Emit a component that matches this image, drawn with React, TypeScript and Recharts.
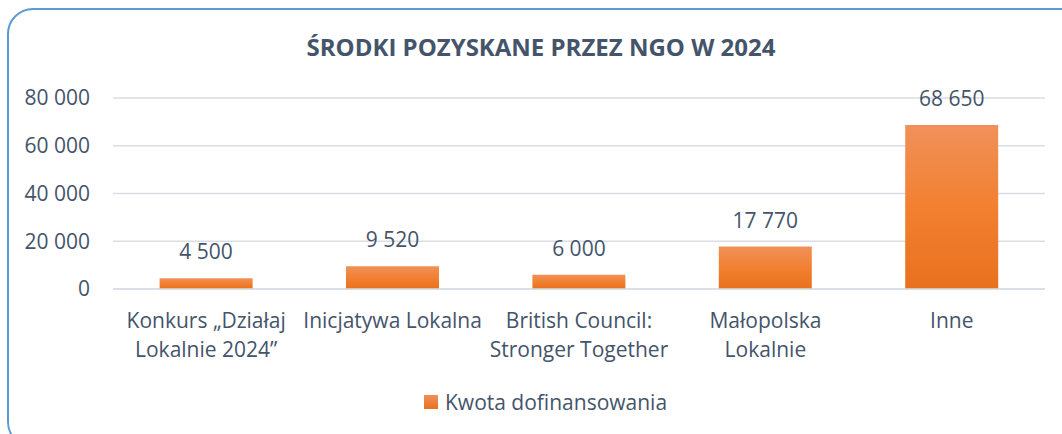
import { BarChart, Bar, XAxis, YAxis, CartesianGrid, LabelList } from 'recharts';

const categories = [
  'Konkurs „Działaj\nLokalnie 2024”',
  'Inicjatywa Lokalna',
  'British Council:\nStronger Together',
  'Małopolska\nLokalnie',
  'Inne',
];
const amounts = [4500, 9520, 6000, 17770, 68650];
const yTicks = [0, 20000, 40000, 60000, 80000];
const seriesName = 'Kwota dofinansowania';
const title = 'ŚRODKI POZYSKANE PRZEZ NGO W 2024';

const data = categories.map((name, i) => ({ name, value: amounts[i] }));

const textColor = '#44546a';
const font = '"Open Sans", sans-serif';

const fmtSpace = (v: number) => String(v).replace(/\B(?=(\d{3})+(?!\d))/g, ' ');

function CategoryTick({ x, y, payload }: any) {
  const lines = String(payload.value).split('\n');
  return (
    <text x={x} y={y} textAnchor="middle" fill={textColor} fontSize={21} fontFamily={font}>
      {lines.map((l, i) => (
        <tspan key={i} x={x} dy={i === 0 ? 31 : 29}>{l}</tspan>
      ))}
    </text>
  );
}

export default function App() {
  return (
    <div style={{ position: 'fixed', left: 0, top: 0, width: 1062, height: 434, overflow: 'hidden', background: '#fff' }}>
      <div style={{ position: 'absolute', left: 7, top: 8, width: 1080, height: 440, border: '2px solid #5b9bd5', borderRadius: 26, boxSizing: 'border-box' }} />
      <div style={{ position: 'absolute', left: 0, top: 30, width: 1082, textAlign: 'center', fontFamily: font, fontWeight: 700, fontSize: 24, color: textColor }}>
        {title}
      </div>
      <div style={{ position: 'absolute', left: 424, top: 388, display: 'flex', alignItems: 'center', fontFamily: font, fontSize: 21, color: textColor }}>
        <span style={{ width: 14, height: 14, background: 'linear-gradient(#f0915a, #e8711f)', marginRight: 7, display: 'inline-block' }} />
        {seriesName}
      </div>
      <div style={{ position: 'absolute', left: 0, top: 0 }}>
        <BarChart width={1062} height={434} data={data} margin={{ top: 98, right: 17, bottom: 115, left: 0 }} barCategoryGap="25%">
          <defs>
            <linearGradient id="barGrad" x1="0" y1="0" x2="0" y2="1">
              <stop offset="0%" stopColor="#f0915a" />
              <stop offset="50%" stopColor="#f28030" />
              <stop offset="100%" stopColor="#e8711f" />
            </linearGradient>
          </defs>
          <CartesianGrid vertical={false} stroke="#d9dde4" strokeWidth={1.5} />
          <XAxis dataKey="name" height={30} interval={0} axisLine={{ stroke: '#d9dde4', strokeWidth: 1.5 }} tickLine={false} tick={<CategoryTick />} />
          <YAxis
            width={113}
            domain={[0, 80000]}
            ticks={yTicks}
            axisLine={false}
            tickLine={false}
            tickSize={0}
            tickMargin={23}
            tickFormatter={fmtSpace}
            tick={{ fill: textColor, fontSize: 21, fontFamily: font }}
          />
          <Bar dataKey="value" name={seriesName} fill="url(#barGrad)" isAnimationActive={false}>
            <LabelList dataKey="value" position="top" offset={19} formatter={(v: any) => fmtSpace(Number(v))} fill={textColor} fontSize={21} fontFamily={font} />
          </Bar>
        </BarChart>
      </div>
    </div>
  );
}
